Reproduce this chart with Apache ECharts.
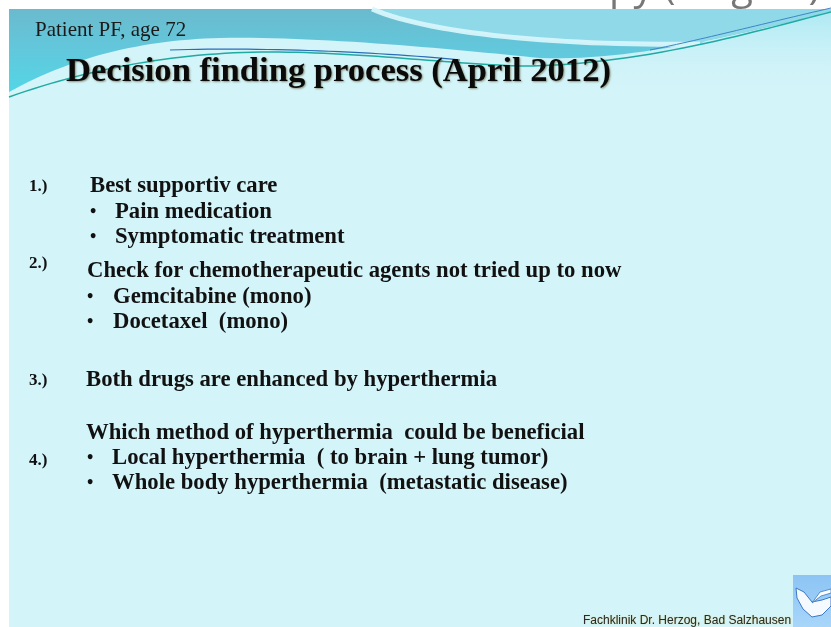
<!DOCTYPE html>
<html>
<head>
<meta charset="utf-8">
<script src="https://cdn.jsdelivr.net/npm/echarts@6/dist/echarts.min.js"></script>
<style>html,body{margin:0;padding:0;background:#fff;}#c{width:831px;height:627px;}</style>
</head>
<body>
<div id="c"></div>
<script>
// ---- slide content (data) ----
const topStripText = 'Decision for thermochemotherapy (stage 4)';
const subtitle = 'Patient PF, age 72';
const title = 'Decision finding process (April 2012)';
const stepNumbers = ['1.)', '2.)', '3.)', '4.)'];
const stepHeadings = [
  'Best supportiv care',
  'Check for chemotherapeutic agents not tried up to now',
  'Both drugs are enhanced by hyperthermia',
  'Which method of hyperthermia  could be beneficial'
];
const step1Items = ['Pain medication', 'Symptomatic treatment'];
const step2Items = ['Gemcitabine (mono)', 'Docetaxel  (mono)'];
const step4Items = ['Local hyperthermia  ( to brain + lung tumor)', 'Whole body hyperthermia  (metastatic disease)'];
const footer = 'Fachklinik Dr. Herzog, Bad Salzhausen';

// ---- helpers ----
const SERIF = '"Liberation Serif", "DejaVu Serif", serif';
function cubic(p0, p1, p2, p3, n) {
  const pts = [];
  for (let i = 0; i <= n; i++) {
    const t = i / n, u = 1 - t;
    pts.push([
      u*u*u*p0[0] + 3*u*u*t*p1[0] + 3*u*t*t*p2[0] + t*t*t*p3[0],
      u*u*u*p0[1] + 3*u*u*t*p1[1] + 3*u*t*t*p2[1] + t*t*t*p3[1]
    ]);
  }
  return pts;
}
function path(segs) {
  let out = [];
  segs.forEach((s, i) => {
    const p = cubic(s[0], s[1], s[2], s[3], 30);
    out = out.concat(i ? p.slice(1) : p);
  });
  return out;
}

const chart = echarts.init(document.getElementById('c'), null, {renderer: 'canvas'});
const els = [];

// top strip text (previous slide heading, mostly cut off by the slide)
els.push({
  type: 'text', z: 0, x: 10, y: 8,
  style: {text: topStripText, font: '40px "Open Sans", sans-serif', fill: '#777777', textVerticalAlign: 'bottom'}
});

// slide background
els.push({type: 'rect', z: 1, shape: {x: 9, y: 9, width: 822, height: 618}, style: {fill: '#d3f4f9'}});

// header wave boundary
const boundary = path([
  [[9, 92], [70, 58], [140, 40], [220, 38]],
  [[220, 38], [320, 36], [460, 50], [540, 58]],
  [[540, 58], [640, 62], [760, 28], [831, 12]]
]);
// soft light band below the wave on the right (fades into body)
els.push({
  type: 'polygon', z: 2,
  shape: {points: [[540, 58], [831, 12], [831, 95], [540, 95]]},
  style: {fill: new echarts.graphic.LinearGradient(0, 0, 0, 1, [
    {offset: 0, color: 'rgba(165,230,242,0.8)'}, {offset: 1, color: 'rgba(211,244,249,0)'}])}
});
els.push({
  type: 'polygon', z: 3,
  shape: {points: [[9, 9], [831, 9]].concat(boundary.slice().reverse())},
  style: {fill: new echarts.graphic.LinearGradient(0, 0, 0, 1, [
    {offset: 0, color: '#6bbacd'}, {offset: 0.5, color: '#62c8dc'}, {offset: 1, color: '#52d6e6'}
  ])}
});
// lighter top-right region bounded by white swoosh
const swoosh = path([[[372, 9], [430, 34], [560, 46], [700, 44]]]);
const rightPart = boundary.filter(p => p[0] >= 700);
els.push({
  type: 'polygon', z: 3,
  shape: {points: [[372, 9], [831, 9]].concat(rightPart.slice().reverse(), swoosh.slice().reverse())},
  style: {fill: '#8fd9e9'}
});
els.push({
  type: 'polyline', z: 4,
  shape: {points: swoosh},
  style: {stroke: 'rgba(214,246,251,0.95)', lineWidth: 5, fill: null}
});

// thin teal / blue lines along the wave
const mainLine = path([
  [[9, 97], [90, 68], [180, 52], [270, 52]],
  [[270, 52], [360, 52], [450, 64], [520, 66]],
  [[520, 66], [640, 66], [760, 30], [831, 12]]
]);
els.push({type: 'polyline', z: 5, shape: {points: mainLine}, style: {stroke: '#1faaa2', lineWidth: 1.5, fill: null}});
const blueLine = path([[[170, 50], [260, 47], [380, 52], [460, 60]]]);
els.push({type: 'polyline', z: 5, shape: {points: blueLine}, style: {stroke: '#2a6db5', lineWidth: 1.2, fill: null}});
const blueLine2 = path([[[650, 50], [700, 40], [770, 22], [831, 8]]]);
els.push({type: 'polyline', z: 5, shape: {points: blueLine2}, style: {stroke: '#3d86c4', lineWidth: 1, fill: null}});

// subtitle and title
els.push({
  type: 'text', z: 6, x: 35, y: 30,
  style: {text: subtitle, font: '21px ' + SERIF, fill: '#1a1a1a', textVerticalAlign: 'middle'}
});
els.push({
  type: 'text', z: 6, x: 66, y: 72,
  style: {text: title, font: 'bold 34.6px ' + SERIF, fill: '#0a0a0a', textVerticalAlign: 'middle',
    textShadowColor: 'rgba(70,45,0,0.5)', textShadowBlur: 2, textShadowOffsetX: 1, textShadowOffsetY: 1}
});

const bodyFont = 'bold 22.7px ' + SERIF;
function line(x, y, t) {
  els.push({type: 'text', z: 6, x: x, y: y,
    style: {text: t, font: bodyFont, fill: '#111', textVerticalAlign: 'middle'}});
}
function num(x, y, t) {
  els.push({type: 'text', z: 6, x: x, y: y,
    style: {text: t, font: 'bold 17px ' + SERIF, fill: '#111', textVerticalAlign: 'middle'}});
}
function bullet(x, tx, y, t) {
  els.push({type: 'text', z: 6, x: x, y: y,
    style: {text: '\u2022', font: 'bold 18px ' + SERIF, fill: '#111', textVerticalAlign: 'middle'}});
  line(tx, y, t);
}

const numY = [187, 264, 381, 461];
stepNumbers.forEach((n, i) => num(29, numY[i], n));

line(90, 186, stepHeadings[0]);
const s1Y = [212, 237];
step1Items.forEach((t, i) => bullet(90, 115, s1Y[i], t));

line(87, 271, stepHeadings[1]);
const s2Y = [297, 322];
step2Items.forEach((t, i) => bullet(87, 113, s2Y[i], t));

line(86, 380, stepHeadings[2]);
line(86, 433, stepHeadings[3]);
const s4Y = [458, 483];
step4Items.forEach((t, i) => bullet(87, 112, s4Y[i], t));

// footer
els.push({
  type: 'text', z: 6, x: 583, y: 621,
  style: {text: footer, font: '12px "Liberation Sans", Arial, sans-serif', fill: '#2a2a2a', textVerticalAlign: 'middle',
    textShadowColor: 'rgba(200,160,0,0.6)', textShadowBlur: 1}
});

// logo (handshake)
els.push({
  type: 'rect', z: 6, shape: {x: 793, y: 575, width: 38, height: 52},
  style: {fill: new echarts.graphic.LinearGradient(0, 0, 0, 1, [
    {offset: 0, color: '#8cc4f4'}, {offset: 1, color: '#a8d6fa'}])}
});
els.push({
  type: 'polygon', z: 7,
  shape: {points: [[796, 588], [804, 592], [812, 602], [822, 600], [831, 597], [831, 606], [822, 615], [812, 617], [803, 609], [797, 598]]},
  style: {fill: '#f4faff', stroke: '#3a78c8', lineWidth: 1}
});
els.push({
  type: 'polygon', z: 7,
  shape: {points: [[812, 603], [821, 596], [831, 593], [831, 589], [820, 592]]},
  style: {fill: '#ffffff', stroke: '#3a78c8', lineWidth: 0.8}
});

chart.setOption({
  animation: false,
  backgroundColor: '#ffffff',
  graphic: {elements: els}
});
</script>
</body>
</html>
